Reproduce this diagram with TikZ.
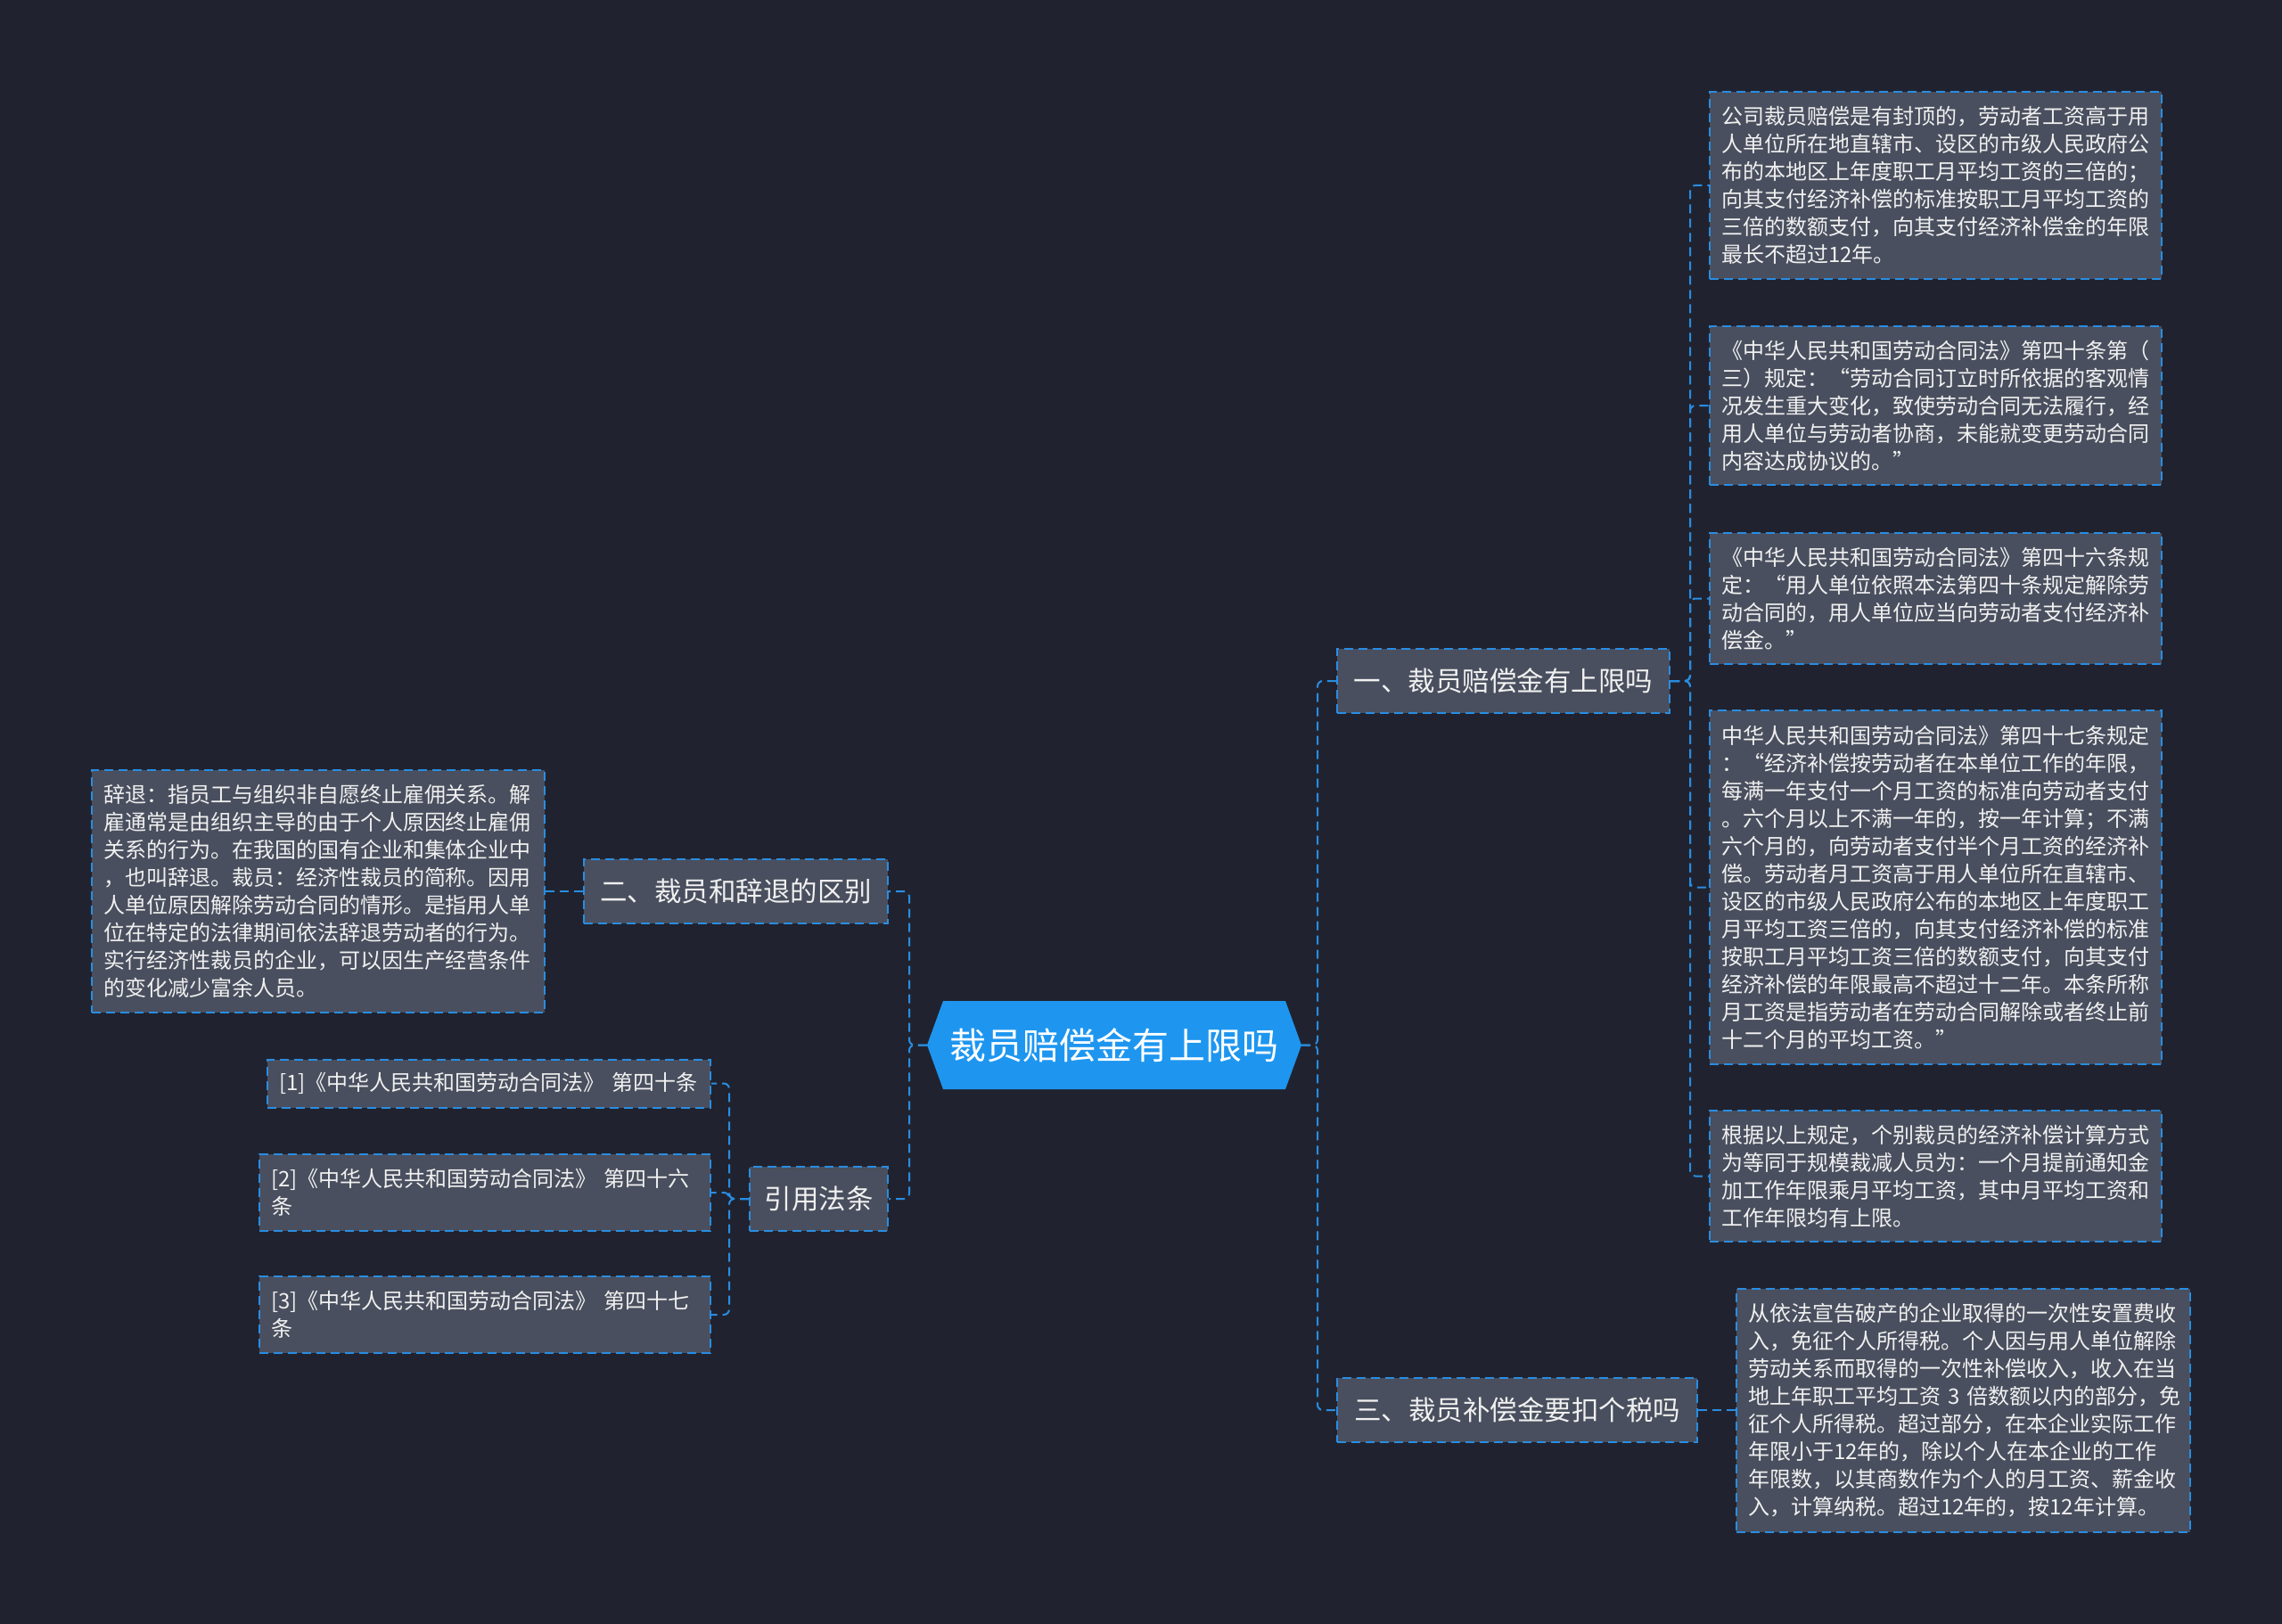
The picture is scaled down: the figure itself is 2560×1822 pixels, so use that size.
\documentclass[tikz,border=0pt]{standalone}
\usepackage{fontspec}
\setmainfont{Noto Sans CJK SC}
\usetikzlibrary{shapes.symbols}
\definecolor{bg}{RGB}{32,35,47}
\definecolor{boxfill}{RGB}{73,79,94}
\definecolor{edge}{RGB}{41,141,226}
\definecolor{rootfill}{RGB}{30,150,240}
\definecolor{txt}{RGB}{240,240,240}
\begin{document}
\begin{tikzpicture}[x=1pt,y=-1pt,
  dashline/.style={draw=edge, line width=2pt, dash pattern=on 10pt off 6pt},
  conn/.style={dashline, rounded corners=6pt},
  leafbox/.style={dashline, fill=boxfill, text=txt, font=\fontsize{24}{31}\selectfont,
    align=left, inner xsep=13pt, inner ysep=2pt},
  leafR/.style={leafbox, text width=481pt},
  midbox/.style={dashline, fill=boxfill, text=txt, font=\fontsize{30.5}{36}\selectfont,
    inner xsep=0pt, inner ysep=0pt, minimum height=72pt},
  rootbox/.style={signal, signal to=west and east, signal pointer angle=140,
    fill=rootfill, text=white, font=\fontsize{41}{48}\selectfont,
    minimum width=420pt, minimum height=99pt, inner xsep=0pt, inner ysep=0pt}
]
\useasboundingbox (0,0) rectangle (2560,1822);
\fill[bg] (0,0) rectangle (2560,1822);

% root
\node[rootbox] (root) at (1250,1172.5) {裁员赔偿金有上限吗};

% first level
\node[midbox, minimum width=373pt] (n1) at (1686.5,764) {一、裁员赔偿金有上限吗};
\node[midbox, minimum width=404pt] (n3) at (1702,1582) {三、裁员补偿金要扣个税吗};
\node[midbox, minimum width=341pt] (n2) at (825.5,1000) {二、裁员和辞退的区别};
\node[midbox, minimum width=155pt] (n4) at (918.5,1345) {引用法条};

% right leaves
\node[leafR, minimum height=210pt] (r1) at (2171.5,208) {公司裁员赔偿是有封顶的，劳动者工资高于用\\人单位所在地直辖市、设区的市级人民政府公\\布的本地区上年度职工月平均工资的三倍的；\\向其支付经济补偿的标准按职工月平均工资的\\三倍的数额支付，向其支付经济补偿金的年限\\最长不超过12年。};
\node[leafR, minimum height=178pt] (r2) at (2171.5,455) {《中华人民共和国劳动合同法》第四十条第（\\三）规定：“劳动合同订立时所依据的客观情\\况发生重大变化，致使劳动合同无法履行，经\\用人单位与劳动者协商，未能就变更劳动合同\\内容达成协议的。”};
\node[leafR, minimum height=147pt] (r3) at (2171.5,671.5) {《中华人民共和国劳动合同法》第四十六条规\\定：“用人单位依照本法第四十条规定解除劳\\动合同的，用人单位应当向劳动者支付经济补\\偿金。”};
\node[leafR, minimum height=397pt] (r4) at (2171.5,995.5) {中华人民共和国劳动合同法》第四十七条规定\\：“经济补偿按劳动者在本单位工作的年限，\\每满一年支付一个月工资的标准向劳动者支付\\。六个月以上不满一年的，按一年计算；不满\\六个月的，向劳动者支付半个月工资的经济补\\偿。劳动者月工资高于用人单位所在直辖市、\\设区的市级人民政府公布的本地区上年度职工\\月平均工资三倍的，向其支付经济补偿的标准\\按职工月平均工资三倍的数额支付，向其支付\\经济补偿的年限最高不超过十二年。本条所称\\月工资是指劳动者在劳动合同解除或者终止前\\十二个月的平均工资。”};
\node[leafR, minimum height=147pt] (r5) at (2171.5,1319.5) {根据以上规定，个别裁员的经济补偿计算方式\\为等同于规模裁减人员为：一个月提前通知金\\加工作年限乘月平均工资，其中月平均工资和\\工作年限均有上限。};
\node[leafbox, text width=483pt, minimum height=273pt] (r6) at (2202.5,1582) {从依法宣告破产的企业取得的一次性安置费收\\入，免征个人所得税。个人因与用人单位解除\\劳动关系而取得的一次性补偿收入，收入在当\\\mbox{地上年职工平均工资 3 倍数额以内的部分，免}\\征个人所得税。超过部分，在本企业实际工作\\年限小于12年的，除以个人在本企业的工作\\年限数，以其商数作为个人的月工资、薪金收\\入，计算纳税。超过12年的，按12年计算。};

% left leaves
\node[leafbox, text width=482pt, minimum height=272pt] (lf) at (357,1000) {辞退：指员工与组织非自愿终止雇佣关系。解\\雇通常是由组织主导的由于个人原因终止雇佣\\关系的行为。在我国的国有企业和集体企业中\\，也叫辞退。裁员：经济性裁员的简称。因用\\人单位原因解除劳动合同的情形。是指用人单\\位在特定的法律期间依法辞退劳动者的行为。\\实行经济性裁员的企业，可以因生产经营条件\\的变化减少富余人员。};
\node[leafbox, text width=471pt, minimum height=54pt] (f1) at (548.5,1215.5) {\mbox{[1]《中华人民共和国劳动合同法》 第四十条}};
\node[leafbox, text width=480pt, minimum height=86pt] (f2) at (544,1338) {\mbox{[2]《中华人民共和国劳动合同法》 第四十六}\\条};
\node[leafbox, text width=480pt, minimum height=86pt] (f3) at (544,1475) {\mbox{[3]《中华人民共和国劳动合同法》 第四十七}\\条};

% spines
\coordinate (sR) at (1478,0);
\coordinate (sL) at (1020,0);
\coordinate (s1) at (1896,0);
\coordinate (s4) at (818,0);

% connectors
\draw[conn] (root.east) -- (sR |- root.east) |- (n1.west);
\draw[conn] (root.east) -- (sR |- root.east) |- (n3.west);
\draw[conn] (root.west) -- (sL |- root.west) |- (n2.east);
\draw[conn] (root.west) -- (sL |- root.west) |- (n4.east);
\foreach \k in {r1,r2,r3,r4,r5}{
  \draw[conn] (n1.east) -- (s1 |- n1.east) |- (\k.west);
}
\draw[conn] (n3.east) -- (r6.west);
\draw[conn] (n2.west) -- (lf.east);
\foreach \k in {f1,f2,f3}{
  \draw[conn] (n4.west) -- (s4 |- n4.west) |- (\k.east);
}
\end{tikzpicture}
\end{document}
